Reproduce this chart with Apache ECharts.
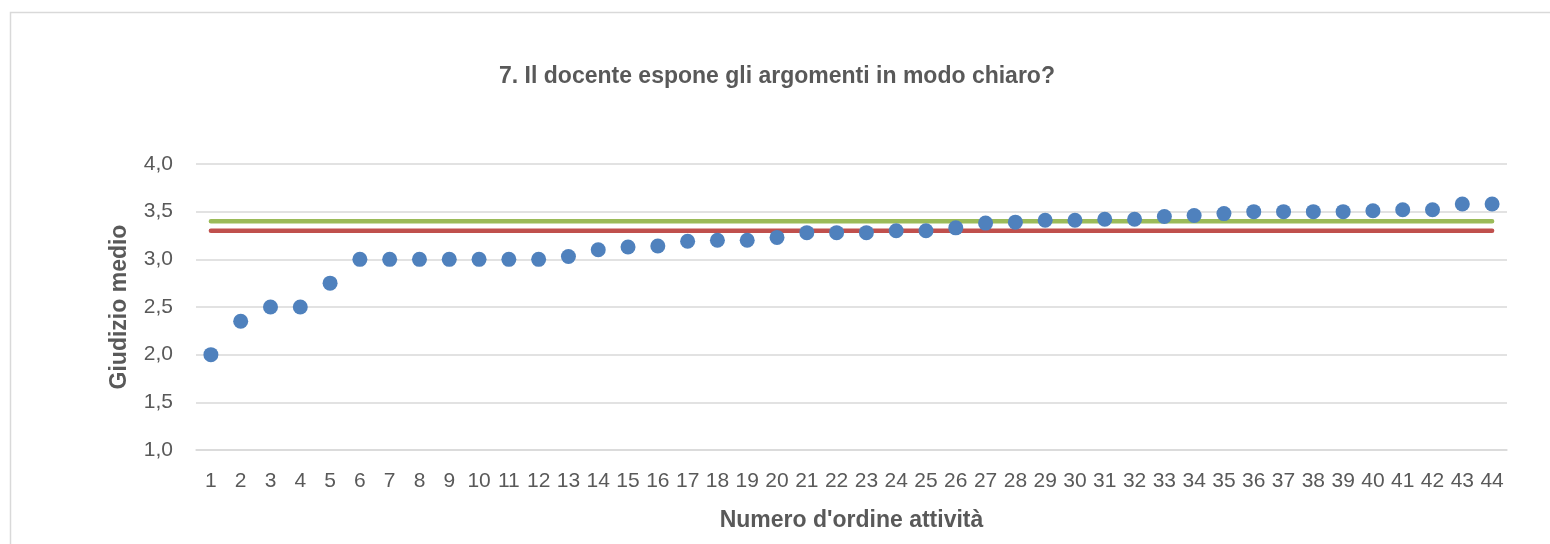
<!DOCTYPE html>
<html>
<head>
<meta charset="utf-8">
<script src="https://cdn.jsdelivr.net/npm/echarts@6/dist/echarts.min.js"></script>
<style>
  html, body { margin: 0; padding: 0; background: #fff; }
  #chart { width: 1550px; height: 544px; }
</style>
</head>
<body>
<div id="chart"></div>
<script>
// categorie: numero d'ordine attività
var attivita = [];
for (var i = 1; i <= 44; i++) attivita.push(String(i));

// giudizio medio per attività
var giudizioMedio = [
  2.00, 2.35, 2.50, 2.50, 2.75, 3.00, 3.00, 3.00, 3.00, 3.00,
  3.00, 3.00, 3.03, 3.10, 3.13, 3.14, 3.19, 3.20, 3.20, 3.23,
  3.28, 3.28, 3.28, 3.30, 3.30, 3.33, 3.38, 3.39, 3.41, 3.41,
  3.42, 3.42, 3.45, 3.46, 3.48, 3.50, 3.50, 3.50, 3.50, 3.51,
  3.52, 3.52, 3.58, 3.58
];

// linee di riferimento
var rifVerde = 3.40;
var rifRosso = 3.30;

var yTicks = { min: 1, max: 4, interval: 0.5 };

var textColor = "#595959";
var fontFam = "'Liberation Sans', Arial, sans-serif";

var chart = echarts.init(document.getElementById("chart"));

var option = {
  animation: false,
  backgroundColor: "#fff",
  textStyle: { fontFamily: fontFam },
  graphic: [
    {
      type: "rect",
      shape: { x: 10.5, y: 12.5, width: 1600, height: 600 },
      style: { fill: "none", stroke: "#d9d9d9", lineWidth: 1.5 },
      silent: true
    }
  ],
  title: {
    text: "7. Il docente espone gli argomenti in modo chiaro?",
    left: 772,
    textAlign: "center",
    top: 60,
    textStyle: {
      color: textColor,
      fontSize: 23,
      fontWeight: "bold",
      fontFamily: fontFam
    }
  },
  grid: {
    left: 196,
    right: 43,
    top: 164,
    bottom: 94
  },
  xAxis: {
    type: "category",
    data: attivita,
    boundaryGap: true,
    name: "Numero d'ordine attività",
    nameLocation: "middle",
    nameGap: 59,
    nameTextStyle: {
      color: textColor,
      fontSize: 23,
      fontWeight: "bold"
    },
    axisLine: { show: true, lineStyle: { color: "#d9d9d9", width: 1.5 } },
    axisTick: { show: false },
    axisLabel: {
      color: textColor,
      fontSize: 21,
      margin: 21,
      interval: 0
    }
  },
  yAxis: {
    type: "value",
    min: yTicks.min,
    max: yTicks.max,
    interval: yTicks.interval,
    name: "Giudizio medio",
    nameLocation: "middle",
    nameRotate: 90,
    nameGap: 65,
    nameTextStyle: {
      color: textColor,
      fontSize: 23,
      fontWeight: "bold"
    },
    axisLine: { show: false },
    axisTick: { show: false },
    axisLabel: {
      color: textColor,
      fontSize: 21,
      margin: 23,
      formatter: function(v) {
        return v.toFixed(1).replace(".", ",");
      }
    },
    splitLine: { lineStyle: { color: "#d9d9d9", width: 1.5 } }
  },
  series: [
    {
      type: "line",
      data: attivita.map(function() { return rifVerde; }),
      showSymbol: false,
      lineStyle: { color: "#9BBB59", width: 4.5, cap: "round" },
      z: 2
    },
    {
      type: "line",
      data: attivita.map(function() { return rifRosso; }),
      showSymbol: false,
      lineStyle: { color: "#C0504D", width: 4.5, cap: "round" },
      z: 2
    },
    {
      type: "scatter",
      data: giudizioMedio,
      symbol: "circle",
      symbolSize: 15,
      itemStyle: { color: "#4F81BD", opacity: 1 },
      z: 3
    }
  ]
};

chart.setOption(option);
</script>
</body>
</html>
